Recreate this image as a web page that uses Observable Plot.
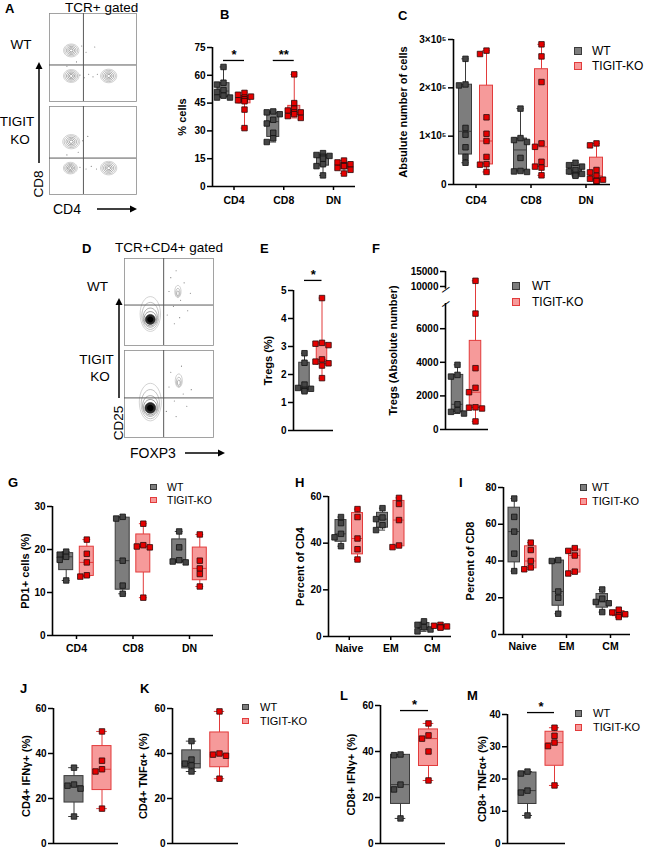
<!DOCTYPE html>
<html><head><meta charset="utf-8">
<script src="https://cdn.jsdelivr.net/npm/d3@7"></script>
<script src="https://cdn.jsdelivr.net/npm/@observablehq/plot@0.6"></script>
<style>
html,body{margin:0;padding:0;background:#fff;}
#fig{position:relative;width:666px;height:849px;overflow:hidden;font-family:'Liberation Sans',Arial,Helvetica,sans-serif;color:#000;background:#fff;}
#fig > svg{position:absolute;left:0;top:0;}
.t{position:absolute;white-space:nowrap;line-height:1;}
.sq{position:absolute;box-sizing:border-box;}
</style></head><body><div id="fig"></div>
<script>
// ================= DATA =================
const groupNames = ["WT", "TIGIT-KO"];

// B: % cells
const bCats = ["CD4", "CD8", "DN"];
const bTicks = [0, 15, 30, 45, 60, 75];
const bWT = [[48, 48, 49, 51, 52, 55, 56, 64.5], [24, 26, 29, 34, 36, 39, 40, 40.5], [6, 11, 12, 15, 16, 16.5, 17, 18]];
const bKO = [[31.5, 41.5, 46, 46.5, 47, 47, 48, 48.5, 49.5, 50.5], [37, 38, 39, 40, 40, 41, 42, 45, 60.5], [7, 9, 10, 11, 11, 11.5, 12, 13, 14]];
const bSig = [{i: 0, y: 68, label: "*"}, {i: 1, y: 68, label: "**"}];

// C: absolute number of cells
const cCats = ["CD4", "CD8", "DN"];
const cTicks = [0, 100000, 200000, 300000];
const cWT = [[45000, 57000, 77000, 103000, 117000, 205000, 207000, 260000], [26000, 27000, 28000, 55000, 88000, 92000, 96000, 157000], [18000, 20000, 22000, 27000, 30000, 37000, 40000, 45000]];
const cKO = [[26000, 41000, 42000, 57000, 90000, 105000, 139000, 270000, 277000], [19000, 35000, 37000, 47000, 78000, 85000, 212000, 265000, 290000], [7000, 8000, 10000, 12000, 18000, 25000, 30000, 81000, 85000]];

// E: Tregs (%)
const eTicks = [0, 1, 2, 3, 4, 5];
const eWT = [[1.40, 1.45, 1.49, 1.52, 1.64, 2.42, 2.76]];
const eKO = [[1.87, 2.32, 2.40, 2.46, 2.54, 3.05, 3.10, 3.13, 4.73]];
const eSig = [{i: 0, y: 5.36, label: "*"}];

// F: Tregs (absolute number), broken axis
const fTicks = [0, 2000, 4000, 6000, 10000, 15000];
const fWT = [[950, 1050, 1150, 1500, 3150, 3250, 3850]];
const fKO = [[480, 1250, 1300, 1320, 2220, 2480, 3650, 6900, 11900]];

// G: PD1+ cells (%)
const gCats = ["CD4", "CD8", "DN"];
const gTicks = [0, 10, 20, 30];
const gWT = [[12.8, 17.6, 18.3, 18.8, 19.5], [9.7, 11.6, 17.4, 27.2, 27.6], [17.0, 17.2, 17.5, 20.5, 24.2]];
const gKO = [[13.7, 14.0, 17.0, 19.0, 22.3], [8.8, 20.5, 20.7, 21.0, 26.0], [11.4, 14.3, 15.6, 17.4, 23.5]];

// H: Percent of CD4
const hCats = ["Naive", "EM", "CM"];
const hTicks = [0, 20, 40, 60];
const hWT = [[38.7, 42.5, 44, 48.6, 51.2], [45.6, 47.7, 50.3, 51, 55], [2.2, 3, 4, 5, 6.5]];
const hKO = [[33, 37.4, 42, 51.2, 54.6], [38.3, 39, 49.9, 56.8, 59.4], [3.8, 4.0, 4.3, 4.6, 5.0]];

// I: Percent of CD8
const iCats = ["Naive", "EM", "CM"];
const iTicks = [0, 20, 40, 60, 80];
const iWT = [[34.5, 44, 56, 64, 74], [11.3, 20, 23.4, 40, 40.5], [12.2, 17, 17.7, 19.5, 24.5]];
const iKO = [[35.5, 36.5, 40, 46, 50], [33.2, 34.2, 43, 45.5, 47], [9.5, 10.5, 11, 12, 13.5]];

// J-M: cytokines
const jTicks = [0, 20, 40, 60];
const jWT = [[12, 24.4, 25.7, 26.2, 33.7]];
const jKO = [[15.5, 32, 33, 36.8, 49.8]];
const kTicks = [0, 20, 40, 60];
const kWT = [[32, 34.7, 35.5, 37.3, 45.5]];
const kKO = [[28.8, 39, 39.5, 40, 58.7]];
const lTicks = [0, 20, 40, 60];
const lWT = [[10.9, 23.5, 25.6, 38.4, 38.7]];
const lKO = [[27.4, 40, 45.6, 47, 52.2]];
const lSig = [{i: 0, y: 57.8, label: "*"}];
const mTicks = [0, 10, 20, 30, 40];
const mWT = [[8.7, 15.8, 16.4, 21.7, 22.3]];
const mKO = [[18, 30.2, 31.3, 33.4, 35.9]];
const mSig = [{i: 0, y: 40.6, label: "*"}];

// Flow cytometry panels (relative fluorescence coordinates 0..1)
const aFacets = ["WT", "TIGIT KO"];
const aGateX = [0.39];
const aGateY = [{fy: "WT", y: 0.415}, {fy: "TIGIT KO", y: 0.414}];
const aPops = [
  {fy: "WT", x: 0.25, y: 0.58, s: 1.0}, {fy: "WT", x: 0.25, y: 0.29, s: 1.0}, {fy: "WT", x: 0.68, y: 0.29, s: 1.05},
  {fy: "TIGIT KO", x: 0.25, y: 0.60, s: 1.1}, {fy: "TIGIT KO", x: 0.24, y: 0.30, s: 0.9}, {fy: "TIGIT KO", x: 0.68, y: 0.30, s: 1.05}
];
const aEvents = [
  {fy: "WT", x: 0.35, y: 0.30}, {fy: "WT", x: 0.40, y: 0.27}, {fy: "WT", x: 0.45, y: 0.31}, {fy: "WT", x: 0.50, y: 0.28},
  {fy: "WT", x: 0.55, y: 0.31}, {fy: "WT", x: 0.42, y: 0.56}, {fy: "WT", x: 0.37, y: 0.63}, {fy: "WT", x: 0.31, y: 0.45},
  {fy: "WT", x: 0.52, y: 0.62}, {fy: "WT", x: 0.20, y: 0.40},
  {fy: "TIGIT KO", x: 0.35, y: 0.31}, {fy: "TIGIT KO", x: 0.42, y: 0.29}, {fy: "TIGIT KO", x: 0.48, y: 0.32},
  {fy: "TIGIT KO", x: 0.54, y: 0.29}, {fy: "TIGIT KO", x: 0.38, y: 0.61}, {fy: "TIGIT KO", x: 0.33, y: 0.48},
  {fy: "TIGIT KO", x: 0.44, y: 0.66}, {fy: "TIGIT KO", x: 0.20, y: 0.45}
];
const dFacets = ["WT", "TIGIT KO"];
const dGateX = [0.44];
const dGateY = [{fy: "WT", y: 0.465}, {fy: "TIGIT KO", y: 0.455}];
const dPopsDense = [{fy: "WT", x: 0.29, y: 0.30, s: 1.0}, {fy: "TIGIT KO", x: 0.29, y: 0.34, s: 1.08}];
const dPopsTreg = [{fy: "WT", x: 0.60, y: 0.60, s: 0.9}, {fy: "TIGIT KO", x: 0.61, y: 0.63, s: 1.0}];
const dEvents = [
  {fy: "WT", x: 0.52, y: 0.78}, {fy: "WT", x: 0.55, y: 0.45}, {fy: "WT", x: 0.63, y: 0.52}, {fy: "WT", x: 0.71, y: 0.40},
  {fy: "WT", x: 0.58, y: 0.86}, {fy: "WT", x: 0.67, y: 0.72}, {fy: "WT", x: 0.50, y: 0.62}, {fy: "WT", x: 0.48, y: 0.35},
  {fy: "WT", x: 0.56, y: 0.25}, {fy: "WT", x: 0.62, y: 0.32}, {fy: "WT", x: 0.74, y: 0.60},
  {fy: "TIGIT KO", x: 0.52, y: 0.75}, {fy: "TIGIT KO", x: 0.56, y: 0.42}, {fy: "TIGIT KO", x: 0.66, y: 0.50},
  {fy: "TIGIT KO", x: 0.70, y: 0.36}, {fy: "TIGIT KO", x: 0.50, y: 0.58}, {fy: "TIGIT KO", x: 0.47, y: 0.30},
  {fy: "TIGIT KO", x: 0.58, y: 0.24}, {fy: "TIGIT KO", x: 0.64, y: 0.82}, {fy: "TIGIT KO", x: 0.75, y: 0.55}
];

// ================= LAYOUT / STYLE =================
const W = 666, H = 849;
const FONT = "'Liberation Sans', Arial, Helvetica, sans-serif";
const COL = {
  WT: {fill: "#7d7d7d", stroke: "#3b3b3b", dot: "#454545", dotStroke: "#111"},
  KO: {fill: "#f69a9a", stroke: "#e23b3b", dot: "#e60000", dotStroke: "#2a0a0a"}
};
const JIT = [0, -3.5, 3.5, -6.5, 6.5];
const LAY = {
  B: {L: 212, R: 355, T: 47, B: 186, yDomain: [0, 75], c0: 233.5, step: 49.75, off: 10.5, bw: 12, tdx: 30, xpad: 6, title: "% cells"},
  C: {L: 453, R: 610, T: 39, B: 184, yDomain: [0, 300000], c0: 475.5, step: 55, off: 10.5, bw: 13, tdx: 50, xpad: 8, title: "Absulute number of cells"},
  E: {L: 293, R: 333, T: 290, B: 430, yDomain: [0, 5], c0: 312.75, off: 8.75, bw: 10.5, tdx: 25, title: "Tregs (%)"},
  F: {L: 445, R: 488, T: 271, B: 429, yDomain: [0, 7500, 10000, 15000], yRange: [429, 303, 286, 271], segs: [[0, 7500], [9600, 15000]], c0: 466, off: 9, bw: 11.5, tdx: 52, title: "Tregs (Absolute number)"},
  G: {L: 52, R: 213, T: 506, B: 635, yDomain: [0, 30], c0: 76, step: 56.5, off: 10.3, bw: 14, tdx: 27, xpad: 5, title: "PD1+ cells (%)"},
  H: {L: 328, R: 451, T: 496, B: 636, yDomain: [0, 60], c0: 348.75, step: 41.5, off: 8.25, bw: 11, tdx: 28, xpad: 4, title: "Percent of CD4"},
  I: {L: 503, R: 630, T: 487, B: 634, yDomain: [0, 80], c0: 522, step: 44, off: 8.25, bw: 11.5, tdx: 33, xpad: 4, title: "Percent of CD8"},
  J: {L: 53, R: 118, T: 708, B: 843, yDomain: [0, 60], c0: 87.5, off: 14, bw: 19, tdx: 27, title: "CD4+ IFNγ+ (%)"},
  K: {L: 172, R: 238, T: 708, B: 843, yDomain: [0, 60], c0: 205, off: 14, bw: 18.5, tdx: 29, title: "CD4+ TNFα+ (%)"},
  L: {L: 380, R: 445, T: 705, B: 843, yDomain: [0, 60], c0: 414, off: 14, bw: 19, tdx: 29, title: "CD8+ IFNγ+ (%)"},
  M: {L: 507, R: 565, T: 714, B: 843, yDomain: [0, 40], c0: 540.5, off: 13.5, bw: 18, tdx: 25, title: "CD8+ TNFα+ (%)"}
};

const fig = document.getElementById("fig");
function addSvg(svg) {
  svg.style.position = "absolute"; svg.style.left = "0"; svg.style.top = "0";
  svg.style.background = "none"; svg.style.overflow = "visible"; svg.style.maxWidth = "none";
  fig.appendChild(svg);
}
function q6(s, p) {
  const n = s.length, h = (n + 1) * p;
  if (h <= 1) return s[0];
  if (h >= n) return s[n - 1];
  const i = Math.floor(h);
  return s[i - 1] + (h - i) * (s[i] - s[i - 1]);
}

function boxPanel(lay, cats, wt, ko, ticks, opt = {}) {
  const n = wt.length;
  const step = lay.step || 40;
  const r0 = lay.c0 - step / 2;
  const u = 1 / step;
  const yRange = lay.yRange || [lay.B, lay.T];
  const ys = d3.scaleLinear(lay.yDomain, yRange);
  const xL = -0.5 + (lay.L - r0) * u, xR = -0.5 + (lay.R - r0) * u;
  const bwU = lay.bw * u, capU = lay.bw * 0.28 * u, offU = lay.off * u;
  const stats = {WT: [], KO: []}, rows = {WT: [], KO: []};
  [["WT", wt, -1], ["KO", ko, 1]].forEach(([g, arr, sg]) => {
    arr.forEach((vals, i) => {
      const cx = i + sg * offU;
      const s = vals.slice().sort(d3.ascending);
      stats[g].push({x: cx, min: s[0], max: s[s.length - 1], q1: q6(s, .25), med: q6(s, .5), q3: q6(s, .75)});
      const placed = [];
      for (const v of vals.slice().sort(d3.descending)) {
        const py = ys(v);
        let c = JIT.find(c => placed.every(p => Math.abs(p.dx - c) >= 5 || Math.abs(p.py - py) >= 5));
        if (c === undefined) c = 0;
        placed.push({dx: c, py});
        rows[g].push({x: cx + c * u, v});
      }
    });
  });
  const marks = [];
  for (const g of ["WT", "KO"]) {
    const c = COL[g];
    marks.push(Plot.rect(stats[g], {x1: d => d.x - bwU / 2, x2: d => d.x + bwU / 2, y1: "q1", y2: "q3", fill: c.fill, stroke: c.stroke, strokeWidth: 1}));
  }
  for (const g of ["WT", "KO"]) {
    const c = COL[g], st = stats[g];
    marks.push(
      Plot.ruleX(st, {x: "x", y1: "min", y2: "q1", stroke: c.stroke, strokeWidth: 1}),
      Plot.ruleX(st, {x: "x", y1: "q3", y2: "max", stroke: c.stroke, strokeWidth: 1}),
      Plot.ruleY(st, {y: "min", x1: d => d.x - capU, x2: d => d.x + capU, stroke: c.stroke, strokeWidth: 1}),
      Plot.ruleY(st, {y: "max", x1: d => d.x - capU, x2: d => d.x + capU, stroke: c.stroke, strokeWidth: 1}),
      Plot.ruleY(st, {y: "med", x1: d => d.x - bwU / 2, x2: d => d.x + bwU / 2, stroke: c.stroke, strokeWidth: 1})
    );
  }
  for (const g of ["WT", "KO"]) {
    const c = COL[g];
    marks.push(Plot.dot(rows[g], {x: "x", y: "v", symbol: "square", r: 3.1, fill: c.dot, stroke: c.dotStroke, strokeWidth: 0.8}));
  }
  const segs = lay.segs || [[lay.yDomain[0], lay.yDomain[lay.yDomain.length - 1]]];
  marks.push(
    Plot.ruleX(segs, {x: () => xL, y1: d => d[0], y2: d => d[1], stroke: "#000", strokeWidth: 1.6}),
    Plot.ruleY([lay.yDomain[0]], {y: d => d, x1: () => xL, x2: () => xR, stroke: "#000", strokeWidth: 1.6}),
    Plot.axisY({anchor: "left", ticks, tickFormat: opt.fmt || (d => String(d)), tickSize: 5, tickPadding: 2, fontSize: 10, fontWeight: "bold", strokeWidth: 1.5, label: null}),
    Plot.text([lay.title], {text: d => d, frameAnchor: "left", textAnchor: "middle", lineAnchor: "middle", dx: -lay.tdx, rotate: -90, fontSize: 11, fontWeight: "bold"})
  );
  if (cats.length > 1) {
    marks.push(Plot.axisX({ticks: d3.range(n), tickFormat: i => cats[i], tickSize: 4, tickPadding: lay.xpad || 5, fontSize: 10.5, fontWeight: "bold", strokeWidth: 1.5, label: null}));
  }
  if (opt.breaks) {
    marks.push(Plot.text(opt.breaks, {y: d => d, text: () => "—", frameAnchor: "left", textAnchor: "middle", rotate: -35, fontSize: 9, fontWeight: "bold"}));
  }
  if (opt.sig) {
    marks.push(
      Plot.ruleY(opt.sig, {y: "y", x1: d => d.i - offU, x2: d => d.i + offU, stroke: "#000", strokeWidth: 1.3}),
      Plot.text(opt.sig, {x: "i", y: "y", text: "label", dy: -6, fontSize: 13, fontWeight: "bold"})
    );
  }
  const svg = Plot.plot({
    width: W, height: H,
    marginLeft: lay.L, marginRight: W - lay.R, marginTop: Math.min(...yRange), marginBottom: H - lay.B,
    x: {type: "linear", domain: [-0.5, n - 0.5], range: [r0, r0 + n * step], axis: null},
    y: {type: "linear", domain: lay.yDomain, range: yRange},
    style: {fontFamily: FONT, fontSize: "10px", background: "none", overflow: "visible", color: "#000"},
    marks
  });
  addSvg(svg);
}

function ellipseSym(ax, ay, oy) {
  return {
    draw(ctx, size) {
      const r = Math.sqrt(size / Math.PI), rx = r * ax, ry = r * ay, cy = -r * oy, k = 0.5523;
      ctx.moveTo(rx, cy);
      ctx.bezierCurveTo(rx, cy + k * ry, k * rx, cy + ry, 0, cy + ry);
      ctx.bezierCurveTo(-k * rx, cy + ry, -rx, cy + k * ry, -rx, cy);
      ctx.bezierCurveTo(-rx, cy - k * ry, -k * rx, cy - ry, 0, cy - ry);
      ctx.bezierCurveTo(k * rx, cy - ry, rx, cy - k * ry, rx, cy);
      ctx.closePath();
    }
  };
}

function flowPanel(box, facets, gateX, gateY, popSets, events) {
  const marks = [Plot.frame({stroke: "#8c8c8c", strokeWidth: 0.8})];
  for (const [pops, rings] of popSets) {
    for (const p of pops) {
      for (const rg of rings) {
        marks.push(Plot.dot([p], {x: "x", y: "y", fy: "fy", r: rg.r * p.s, symbol: ellipseSym(rg.ax, rg.ay, rg.oy || 0),
          fill: rg.fill || "none", stroke: rg.stroke || "none", strokeWidth: rg.sw || 0.6}));
      }
    }
  }
  marks.push(
    Plot.dot(events, {x: "x", y: "y", fy: "fy", r: 0.55, fill: "#777"}),
    Plot.ruleX(gateX, {x: d => d, stroke: "#5a5a5a", strokeWidth: 1}),
    Plot.ruleY(gateY, {y: "y", fy: "fy", stroke: "#5a5a5a", strokeWidth: 1})
  );
  const svg = Plot.plot({
    width: W, height: H,
    marginLeft: box.L, marginRight: W - box.R, marginTop: box.T, marginBottom: H - box.B,
    x: {domain: [0, 1], axis: null}, y: {domain: [0, 1], axis: null},
    fy: {domain: facets, paddingInner: 0.055, paddingOuter: 0, axis: null, label: null},
    style: {fontFamily: FONT, background: "none", overflow: "visible"},
    marks
  });
  addSvg(svg);
}

// ================= DRAW =================
const ringsA = [1.6, 3, 4.4, 5.8, 7].map((r, k) => ({r, ax: 1.1, ay: 0.92, stroke: ["#555", "#6a6a6a", "#808080", "#999", "#b0b0b0"][k]}));
flowPanel({L: 49, R: 136, T: 13, B: 194}, aFacets, aGateX, aGateY, [[aPops, ringsA]], aEvents);

const ringsDense = [
  {r: 12, ax: 0.85, ay: 1.45, oy: 0.45, stroke: "#b5b5b5"},
  {r: 10, ax: 0.85, ay: 1.35, oy: 0.35, stroke: "#999"},
  {r: 8, ax: 0.9, ay: 1.2, oy: 0.22, stroke: "#7a7a7a"},
  {r: 6.5, ax: 0.95, ay: 1.1, oy: 0.1, stroke: "#555"},
  {r: 5, ax: 1, ay: 1, fill: "#2a2a2a", stroke: "#333"},
  {r: 3, ax: 1, ay: 1, fill: "#000"}
];
const ringsTreg = [2, 3.5, 5].map((r, k) => ({r, ax: 0.7, ay: 1.35, oy: 0.2 * k, stroke: ["#777", "#999", "#b0b0b0"][k]}));
flowPanel({L: 124, R: 213, T: 258, B: 437}, dFacets, dGateX, dGateY, [[dPopsDense, ringsDense], [dPopsTreg, ringsTreg]], dEvents);

boxPanel(LAY.B, bCats, bWT, bKO, bTicks, {sig: bSig});
boxPanel(LAY.C, cCats, cWT, cKO, cTicks, {fmt: d => d === 0 ? "0" : `${d / 1e5}×10⁵`});
boxPanel(LAY.E, [""], eWT, eKO, eTicks, {sig: eSig});
boxPanel(LAY.F, [""], fWT, fKO, fTicks, {breaks: [7500, 9600]});
boxPanel(LAY.G, gCats, gWT, gKO, gTicks);
boxPanel(LAY.H, hCats, hWT, hKO, hTicks);
boxPanel(LAY.I, iCats, iWT, iKO, iTicks);
boxPanel(LAY.J, [""], jWT, jKO, jTicks);
boxPanel(LAY.K, [""], kWT, kKO, kTicks);
boxPanel(LAY.L, [""], lWT, lKO, lTicks, {sig: lSig});
boxPanel(LAY.M, [""], mWT, mKO, mTicks, {sig: mSig});

// ================= TEXT, LEGENDS, ARROWS =================
function txt(s, x, y, size, weight, anchor = "left", rot = 0) {
  const d = document.createElement("div");
  d.className = "t";
  d.textContent = s;
  d.style.left = x + "px"; d.style.top = y + "px";
  d.style.fontSize = size + "px"; d.style.fontWeight = weight;
  const tx = anchor === "center" ? "-50%" : "0";
  d.style.transform = `translate(${tx},-50%)` + (rot ? ` rotate(${rot}deg)` : "");
  d.style.transformOrigin = "center center";
  fig.appendChild(d);
}
[["A", 5, 8], ["B", 220, 14], ["C", 398, 15], ["D", 82, 248], ["E", 260, 248], ["F", 372, 248],
 ["G", 8, 482], ["H", 295, 482], ["I", 459, 482], ["J", 20, 688], ["K", 140, 688], ["L", 340, 695], ["M", 467, 695]]
  .forEach(([s, x, y]) => txt(s, x, y, 13, "bold"));
txt("TCR+ gated", 65, 8, 13.5, "normal");
txt("WT", 21, 45, 13.5, "normal", "center");
txt("TIGIT", 17, 122, 13.5, "normal", "center");
txt("KO", 20, 140, 13.5, "normal", "center");
txt("CD8", 39, 184, 13.5, "normal", "center", -90);
txt("CD4", 53, 209, 14, "normal");
txt("TCR+CD4+ gated", 115, 248, 13.5, "normal");
txt("WT", 97.5, 287, 13.5, "normal", "center");
txt("TIGIT", 96.5, 360, 13.5, "normal", "center");
txt("KO", 100, 377, 13.5, "normal", "center");
txt("CD25", 119, 423, 13.5, "normal", "center", -90);
txt("FOXP3", 130, 453, 14, "normal");

function legend(x, y, gap, size, tx, font) {
  groupNames.forEach((g, k) => {
    const c = COL[k === 0 ? "WT" : "KO"];
    const s = document.createElement("div");
    s.className = "sq";
    s.style.left = x + "px"; s.style.top = (y + k * gap - size / 2) + "px";
    s.style.width = size + "px"; s.style.height = size + "px";
    s.style.background = c.fill; s.style.border = `1px solid ${c.stroke}`;
    fig.appendChild(s);
    txt(g, tx, y + k * gap, font, "normal");
  });
}
legend(574, 51, 15, 8, 592, 12);
legend(512, 286, 16, 7.5, 532, 12);
legend(150, 487, 13, 6.5, 167, 10.5);
legend(580, 487, 14, 7, 592, 11);
legend(242, 707, 14, 6.5, 260, 11);
legend(575, 713, 14, 7, 593, 11);

const ns = "http://www.w3.org/2000/svg";
const ov = document.createElementNS(ns, "svg");
ov.setAttribute("width", W); ov.setAttribute("height", H);
ov.style.position = "absolute"; ov.style.left = "0"; ov.style.top = "0";
[[39, 163, 39, 62], [97, 209, 137, 209], [119, 398, 119, 298], [185, 453, 225, 453]].forEach(([x1, y1, x2, y2]) => {
  const ang = Math.atan2(y2 - y1, x2 - x1);
  const hl = 7, hw = 3.5;
  const bx = x2 - hl * Math.cos(ang), by = y2 - hl * Math.sin(ang);
  const l = document.createElementNS(ns, "line");
  l.setAttribute("x1", x1); l.setAttribute("y1", y1); l.setAttribute("x2", bx); l.setAttribute("y2", by);
  l.setAttribute("stroke", "#000"); l.setAttribute("stroke-width", 1.5);
  ov.appendChild(l);
  const p = document.createElementNS(ns, "polygon");
  const px = -Math.sin(ang) * hw, py = Math.cos(ang) * hw;
  p.setAttribute("points", `${x2},${y2} ${bx + px},${by + py} ${bx - px},${by - py}`);
  ov.appendChild(p);
});
fig.appendChild(ov);
</script></body></html>
